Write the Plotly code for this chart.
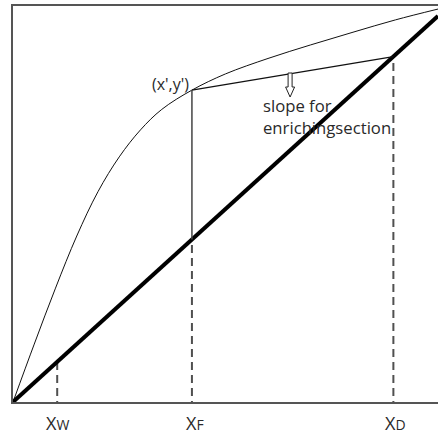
import plotly.graph_objects as go

# Equilibrium curve (mole fraction x vs y)
eq_x = [0.0, 0.05, 0.10, 0.15, 0.20, 0.25, 0.30, 0.35, 0.421,
        0.50, 0.60, 0.70, 0.80, 0.90, 1.0]
eq_y = [0.0, 0.15, 0.295, 0.43, 0.545, 0.635, 0.705, 0.758, 0.808,
        0.85, 0.89, 0.925, 0.958, 0.99, 1.018]

# Diagonal y = x
diag_x = [0.0, 1.0]
diag_y = [0.0, 1.0]

# Key compositions
x_w = 0.104
x_f = 0.421
x_d = 0.895
y_prime = 0.808

fig = go.Figure()

fig.add_trace(go.Scatter(x=eq_x, y=eq_y, mode="lines",
                         line=dict(color="#111111", width=1, shape="spline", smoothing=1.0),
                         hoverinfo="skip"))
fig.add_trace(go.Scatter(x=diag_x, y=diag_y, mode="lines",
                         line=dict(color="#000000", width=4), hoverinfo="skip"))
# Enriching (operating) line from (x', y') to (xD, xD)
fig.add_trace(go.Scatter(x=[x_f, x_d], y=[y_prime, x_d], mode="lines",
                         line=dict(color="#111111", width=1.3), hoverinfo="skip"))
# Solid vertical from (x', y') down to diagonal
fig.add_trace(go.Scatter(x=[x_f, x_f], y=[y_prime, x_f], mode="lines",
                         line=dict(color="#444444", width=1.5), hoverinfo="skip"))

dash_col = "#505050"
for xv in (x_w, x_f, x_d):
    fig.add_shape(type="line", xref="x", yref="y", x0=xv, x1=xv, y0=-0.018, y1=xv,
                  line=dict(color=dash_col, width=2, dash="8px,5px"), layer="below")

lab_font = dict(family="Open Sans, Liberation Sans, sans-serif", color="#2a2a2a")
sub = "<span style='font-size:14px'>%s</span>"
for xv, s, xs in ((x_w, "W", 0), (x_f, "F", 3), (x_d, "D", 2)):
    fig.add_annotation(x=xv, xref="x", y=-21 / 396, yref="paper",
                       text="X" + sub % s, showarrow=False,
                       xanchor="center", yanchor="middle", xshift=xs,
                       font=dict(size=18, **lab_font))

fig.add_annotation(x=x_f, y=y_prime, xref="x", yref="y", text="(x',y')",
                   showarrow=False, xanchor="right", yanchor="middle",
                   xshift=-1, yshift=6, font=dict(size=16, **lab_font))

fig.add_annotation(x=0.583, y=(402 - 116.5) / 386, xref="x", yref="y",
                   text="slope for<br>enrichingsection", align="left",
                   showarrow=False, xanchor="left", yanchor="middle",
                   font=dict(size=16.7, **lab_font))

# hollow downward arrow pointing at the enriching line slope text
fig.add_shape(type="path", xref="x", yref="y", xsizemode="pixel", ysizemode="pixel",
              xanchor=0.652, yanchor=(402 - 73) / 386,
              path="M -2 0 L -2 -14 L -4.5 -14 L 0 -24 L 4.5 -14 L 2 -14 L 2 0 Z",
              fillcolor="white", line=dict(color="#222222", width=1))

fig.update_layout(
    width=438, height=434,
    margin=dict(l=13, r=0, t=6, b=32),
    plot_bgcolor="white", paper_bgcolor="white",
    showlegend=False,
    xaxis=dict(range=[0, 1], showgrid=False, zeroline=False, showticklabels=False,
               ticks="", showline=True, linecolor="#555555", linewidth=1.5, mirror=True),
    yaxis=dict(range=[0, 396 / 386], showgrid=False, zeroline=False, showticklabels=False,
               ticks="", showline=True, linecolor="#555555", linewidth=1.5),
)

fig.write_html("out.html")
